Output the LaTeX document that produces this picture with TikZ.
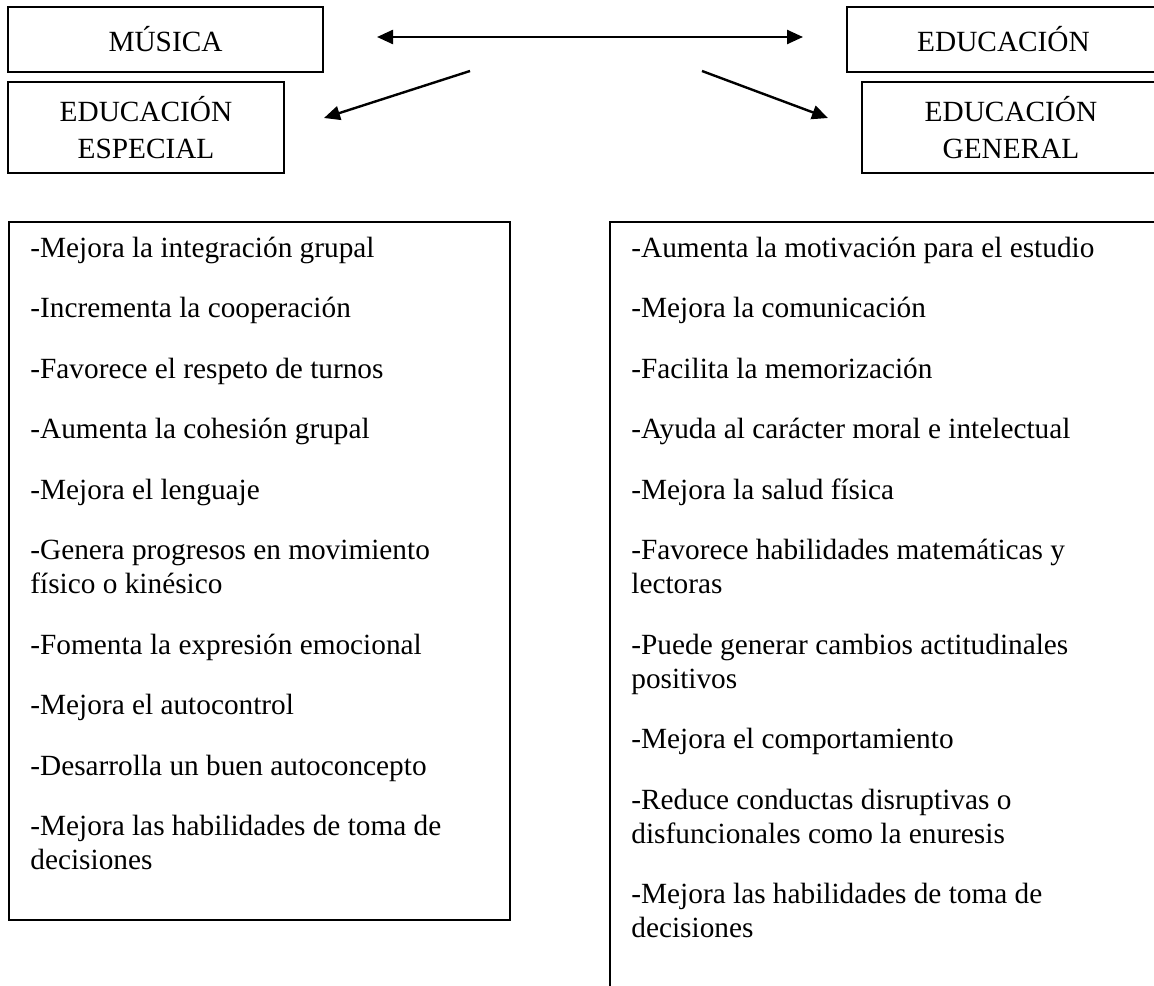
\documentclass[tikz,border=0pt]{standalone}
\usepackage{fontspec}
\setmainfont{Liberation Serif}
\usetikzlibrary{arrows.meta,positioning}
\tikzset{
    box/.style = {draw, rectangle, line width=0.9pt,
        inner sep=0pt, align=center},
    item/.style = {anchor=base west, inner sep=0pt},
    arrow/.style = {draw, line width=1.2pt, -{Triangle[length=8pt,width=7pt]}},
    darrow/.style = {draw, line width=1.2pt,
        {Triangle[length=8pt,width=7pt]}-{Triangle[length=8pt,width=7pt]}}
}

\begin{document}
\begin{tikzpicture}[x=0.5pt, y=-0.5pt, font=\fontsize{14.65}{17}\selectfont]
    \clip (0,0) rectangle (1154,985);
    % cabeceras
    \node [box, minimum width=157.5pt, minimum height=32.5pt] (musica) at (165.5,39.5) {MÚSICA};
    \node [box, minimum width=156.5pt, minimum height=32.5pt] (educacion) at (1003.5,39.5) {EDUCACIÓN};
    \node [box, minimum width=138pt, minimum height=45.5pt] (especial) at (146,127.5) {EDUCACIÓN\\[1.5pt]ESPECIAL};
    \node [box, minimum width=149pt, minimum height=45.5pt] (general) at (1011,127.5) {EDUCACIÓN\\[1.5pt]GENERAL};
    % flechas
    \coordinate (flechaIzq) at (377,37);
    \coordinate (flechaDer) at (803,37);
    \draw [darrow] (flechaIzq) -- (flechaDer);
    \coordinate (salIzq) at (470,71);
    \coordinate (llegIzq) at (324,118);
    \draw [arrow] (salIzq) -- (llegIzq);
    \coordinate (salDer) at (702,71);
    \coordinate (llegDer) at (828,118);
    \draw [arrow] (salDer) -- (llegDer);
    % listas
    \node [box, anchor=north west, minimum width=250.5pt, minimum height=349pt] (listaEsp) at (8,221) {};
    \node [box, anchor=north west, minimum width=300pt, minimum height=400pt] (listaGen) at (609,221) {};
    \foreach \y/\txt [count=\i] in {257/{-Mejora la integración grupal},
        317.5/{-Incrementa la cooperación},
        378/{-Favorece el respeto de turnos},
        438.5/{-Aumenta la cohesión grupal},
        499/{-Mejora el lenguaje},
        559.5/{-Genera progresos en movimiento},
        593.5/{físico o kinésico},
        654/{-Fomenta la expresión emocional},
        714.5/{-Mejora el autocontrol},
        775/{-Desarrolla un buen autoconcepto},
        835.5/{-Mejora las habilidades de toma de},
        869.5/{decisiones}}
        \node [item] (esp\i) at (30,\y) {\txt};
    \foreach \y/\txt [count=\i] in {257/{-Aumenta la motivación para el estudio},
        317.5/{-Mejora la comunicación},
        378/{-Facilita la memorización},
        438.5/{-Ayuda al carácter moral e intelectual},
        499/{-Mejora la salud física},
        559.5/{-Favorece habilidades matemáticas y},
        593.5/{lectoras},
        654/{-Puede generar cambios actitudinales},
        688/{positivos},
        748.5/{-Mejora el comportamiento},
        809/{-Reduce conductas disruptivas o},
        843/{disfuncionales como la enuresis},
        903.5/{-Mejora las habilidades de toma de},
        937.5/{decisiones}}
        \node [item] (gen\i) at (631,\y) {\txt};
\end{tikzpicture}
\end{document}
